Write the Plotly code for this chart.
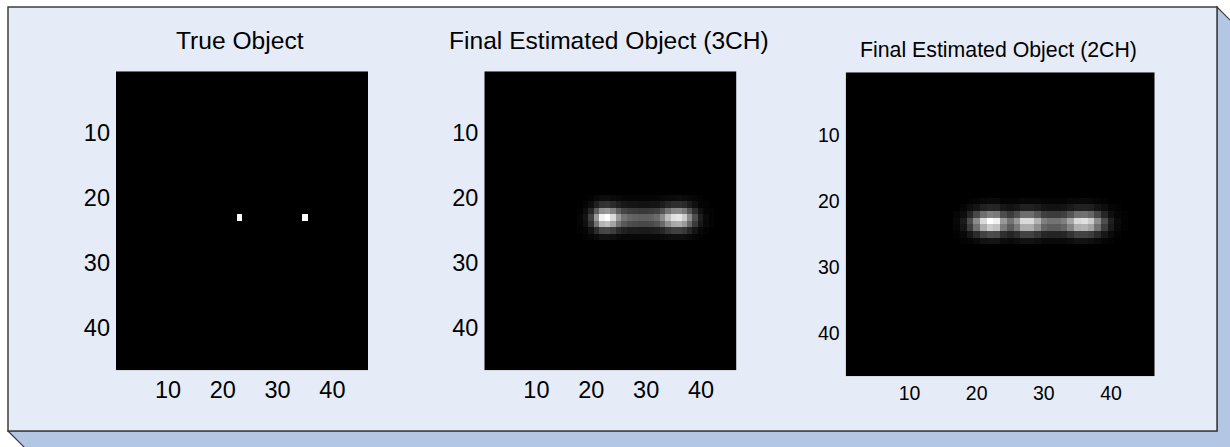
import numpy as np
import plotly.graph_objects as go

W, H = 1230, 447
N = 46  # image size (rows = cols)

tick_vals = [10, 20, 30, 40]
titles = ["True Object", "Final Estimated Object (3CH)", "Final Estimated Object (2CH)"]

# True object: isolated bright pixels
true_rows = [23, 23]
true_cols = [23, 35]
true_vals = [1.0, 1.0]

# Final estimate (3CH): non-zero block, rows 20..26, cols 18..42
est3_row0, est3_col0 = 20, 18
est3_block = [
    [0, 0, 0.01, 0.03, 0.05, 0.05, 0.04, 0.03, 0.02, 0.02, 0.02, 0.02, 0.02, 0.02, 0.02, 0.03, 0.04, 0.04, 0.05, 0.04, 0.03, 0.02, 0.01, 0, 0],
    [0, 0.02, 0.05, 0.12, 0.19, 0.20, 0.17, 0.12, 0.09, 0.08, 0.08, 0.07, 0.07, 0.08, 0.08, 0.11, 0.15, 0.18, 0.18, 0.16, 0.11, 0.06, 0.02, 0.01, 0],
    [0.01, 0.05, 0.15, 0.36, 0.57, 0.60, 0.51, 0.36, 0.27, 0.24, 0.23, 0.22, 0.22, 0.23, 0.25, 0.33, 0.45, 0.53, 0.54, 0.48, 0.33, 0.18, 0.07, 0.02, 0.01],
    [0.02, 0.08, 0.25, 0.60, 0.95, 1.00, 0.85, 0.60, 0.45, 0.40, 0.38, 0.37, 0.37, 0.38, 0.42, 0.55, 0.75, 0.88, 0.90, 0.80, 0.55, 0.30, 0.12, 0.04, 0.01],
    [0.02, 0.06, 0.19, 0.45, 0.71, 0.75, 0.64, 0.45, 0.34, 0.30, 0.29, 0.28, 0.28, 0.29, 0.32, 0.41, 0.56, 0.66, 0.68, 0.60, 0.41, 0.23, 0.09, 0.03, 0.01],
    [0.01, 0.02, 0.07, 0.17, 0.27, 0.28, 0.24, 0.17, 0.13, 0.11, 0.11, 0.10, 0.10, 0.11, 0.12, 0.15, 0.21, 0.25, 0.25, 0.22, 0.15, 0.08, 0.03, 0.01, 0],
    [0, 0.01, 0.02, 0.04, 0.07, 0.07, 0.06, 0.04, 0.03, 0.03, 0.03, 0.03, 0.03, 0.03, 0.03, 0.04, 0.05, 0.06, 0.06, 0.06, 0.04, 0.02, 0.01, 0, 0],
]

# Final estimate (2CH): non-zero block, rows 20..26, cols 17..42
est2_row0, est2_col0 = 20, 17
est2_block = [
    [0, 0, 0.01, 0.02, 0.03, 0.04, 0.04, 0.02, 0.02, 0.02, 0.03, 0.03, 0.03, 0.02, 0.02, 0.02, 0.02, 0.03, 0.03, 0.04, 0.03, 0.02, 0.01, 0, 0, 0],
    [0, 0.02, 0.05, 0.08, 0.13, 0.15, 0.14, 0.09, 0.07, 0.09, 0.13, 0.13, 0.11, 0.08, 0.07, 0.07, 0.08, 0.10, 0.13, 0.13, 0.12, 0.08, 0.05, 0.02, 0.01, 0],
    [0.02, 0.05, 0.15, 0.28, 0.43, 0.50, 0.48, 0.30, 0.23, 0.30, 0.43, 0.43, 0.35, 0.25, 0.23, 0.23, 0.25, 0.33, 0.43, 0.44, 0.40, 0.28, 0.15, 0.06, 0.02, 0.01],
    [0.03, 0.10, 0.30, 0.55, 0.85, 1.00, 0.95, 0.60, 0.45, 0.60, 0.85, 0.85, 0.70, 0.50, 0.45, 0.45, 0.50, 0.65, 0.85, 0.88, 0.80, 0.55, 0.30, 0.12, 0.04, 0.01],
    [0.02, 0.08, 0.24, 0.44, 0.68, 0.80, 0.76, 0.48, 0.36, 0.48, 0.68, 0.68, 0.56, 0.40, 0.36, 0.36, 0.40, 0.52, 0.68, 0.70, 0.64, 0.44, 0.24, 0.10, 0.03, 0.01],
    [0.01, 0.03, 0.09, 0.17, 0.26, 0.30, 0.29, 0.18, 0.14, 0.18, 0.26, 0.26, 0.21, 0.15, 0.14, 0.14, 0.15, 0.20, 0.26, 0.26, 0.24, 0.17, 0.09, 0.04, 0.01, 0],
    [0, 0.01, 0.02, 0.04, 0.07, 0.08, 0.08, 0.05, 0.04, 0.05, 0.07, 0.07, 0.06, 0.04, 0.04, 0.04, 0.04, 0.05, 0.07, 0.07, 0.06, 0.04, 0.02, 0.01, 0, 0],
]

# ---- build the image matrices from the values above ----
z_true = np.zeros((N, N))
for r, c, v in zip(true_rows, true_cols, true_vals):
    z_true[r - 1, c - 1] = v

def place(block, r0, c0):
    z = np.zeros((N, N))
    b = np.array(block)
    z[r0 - 1:r0 - 1 + b.shape[0], c0 - 1:c0 - 1 + b.shape[1]] = b
    return z

z_3ch = place(est3_block, est3_row0, est3_col0)
z_2ch = place(est2_block, est2_row0, est2_col0)

idx = list(range(1, N + 1))

def px(x):
    return x / W

def py(y):
    return 1 - y / H

FONT = "Liberation Sans, Arial, sans-serif"

# panel geometry in pixels: (left, right, top, bottom, tickfont, titlefont, title_y)
panels = [
    (116.0, 368.0, 71.3, 370.3, 23.5, 24.6, 40.5),
    (484.3, 736.7, 71.3, 370.3, 23.5, 24.6, 40.5),
    (845.7, 1154.7, 72.3, 376.3, 19.5, 21.3, 49.5),
]

fig = go.Figure()
for i, z in enumerate([z_true, z_3ch, z_2ch]):
    sfx = "" if i == 0 else str(i + 1)
    fig.add_trace(go.Heatmap(
        z=z, x=idx, y=idx,
        colorscale=[[0, "#000000"], [1, "#ffffff"]],
        zmin=0, zmax=1, zsmooth=False, showscale=False,
        xaxis="x" + sfx, yaxis="y" + sfx,
    ))

layout = dict(
    width=W, height=H,
    margin=dict(l=0, r=0, t=0, b=0),
    paper_bgcolor="white",
    plot_bgcolor="rgba(0,0,0,0)",
    showlegend=False,
    annotations=[],
    shapes=[],
)

for i, (l, r, t, b, tf, ttf, ty) in enumerate(panels):
    sfx = "" if i == 0 else str(i + 1)
    layout["xaxis" + sfx] = dict(
        domain=[px(l), px(r)], range=[0.5, N + 0.5], anchor="y" + sfx,
        tickvals=tick_vals, ticks="", showgrid=False, zeroline=False, showline=False,
        tickfont=dict(family=FONT, size=tf, color="black"), ticklabelstandoff=3,
        fixedrange=True,
    )
    layout["yaxis" + sfx] = dict(
        domain=[py(b), py(t)], range=[N + 0.5, 0.5], anchor="x" + sfx,
        tickvals=tick_vals, ticks="", showgrid=False, zeroline=False, showline=False,
        tickfont=dict(family=FONT, size=tf, color="black"), ticklabelstandoff=5,
        fixedrange=True,
    )
    layout["annotations"].append(dict(
        text=titles[i], xref="paper", yref="paper",
        x=px((l + r) / 2 - 2), y=py(ty), xanchor="center", yanchor="middle",
        showarrow=False, font=dict(family=FONT, size=ttf, color="black"),
    ))

# 3-D box background: bevel and front face
d = 40
bev = [(8, 431), (1217, 431), (1217, 7), (1217 + d, 7 + d), (1217 + d, 431 + d), (8 + d, 431 + d)]
path = "M " + " L ".join(f"{px(x):.5f},{py(y):.5f}" for x, y in bev) + " Z"
layout["shapes"].append(dict(type="path", xref="paper", yref="paper", path=path,
                             fillcolor="#B3C6E4", line=dict(color="#3c3c3c", width=1.2),
                             layer="below"))
layout["shapes"].append(dict(type="rect", xref="paper", yref="paper",
                             x0=px(8), x1=px(1217), y0=py(431), y1=py(7),
                             fillcolor="#E6ECF7", line=dict(color="#3c3c3c", width=1.5),
                             layer="below"))

fig.update_layout(**layout)
fig.write_html("out.html", config={"displayModeBar": False},
               post_script="document.body.style.margin='0';document.body.style.overflow='hidden';")
